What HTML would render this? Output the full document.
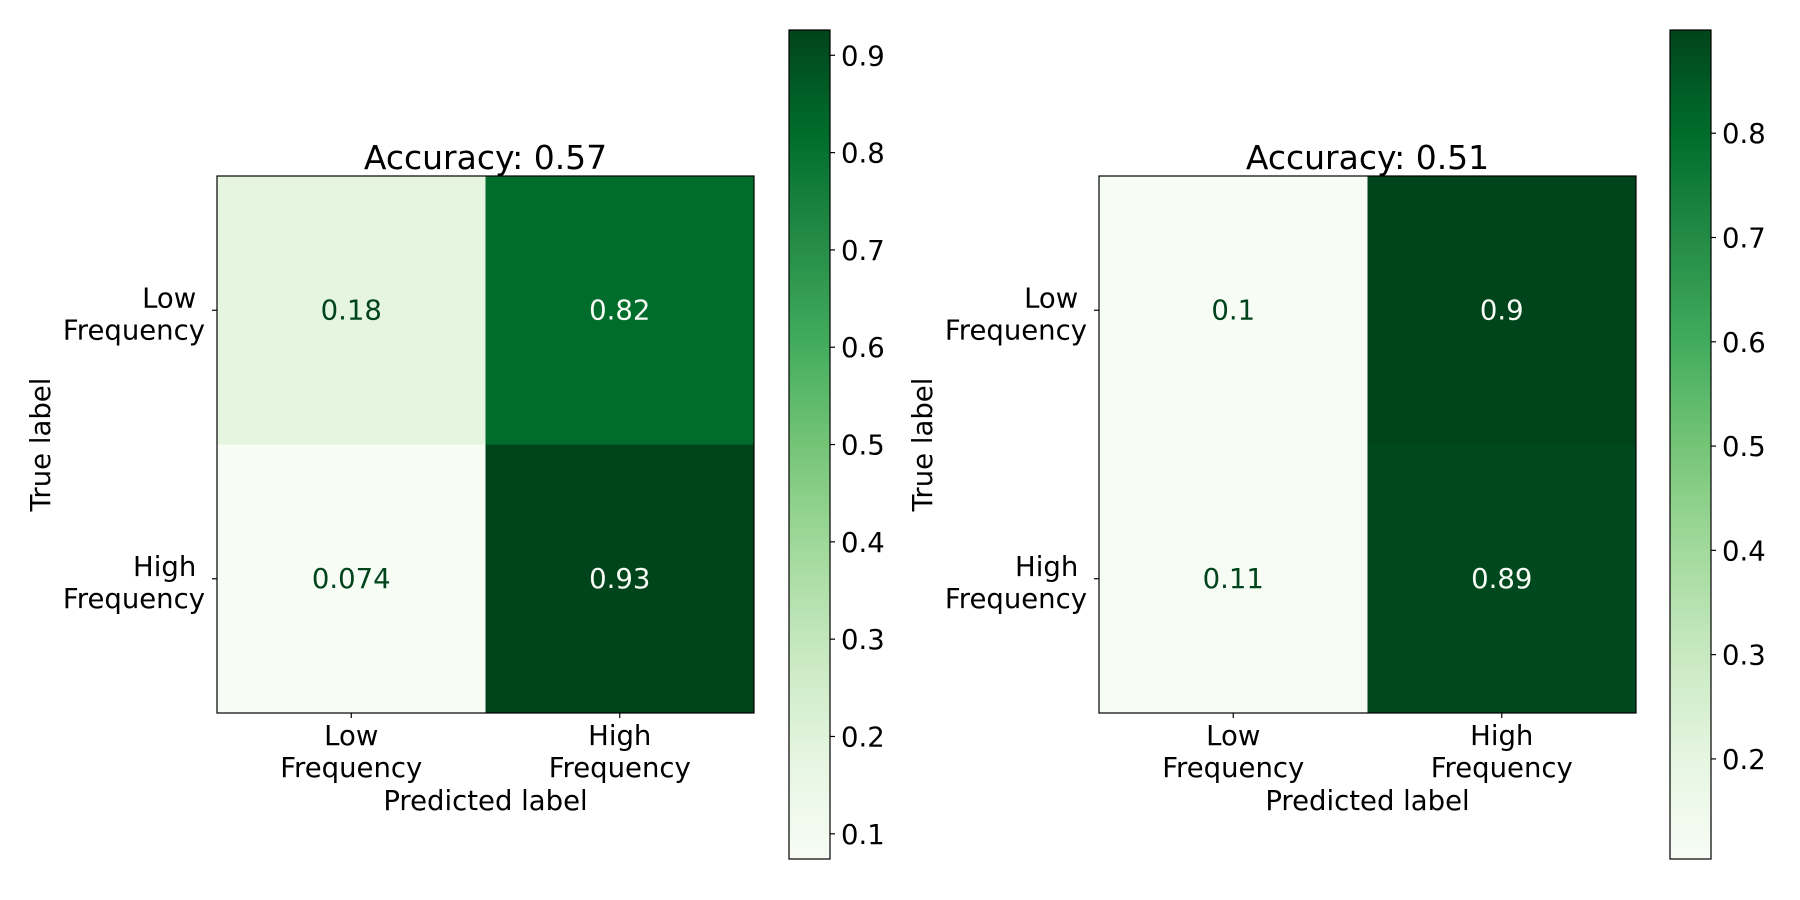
<!DOCTYPE html>
<html><head><meta charset="utf-8"><style>
html,body{margin:0;padding:0;background:#fff;}
svg{display:block;font-family:"DejaVu Sans","Liberation Sans",sans-serif;}
</style></head><body>
<svg id="fig" width="1800" height="900" viewBox="0 0 1800 900" xmlns="http://www.w3.org/2000/svg">
<defs></defs>
</svg>
<script>
const classLabels = [["Low ","Frequency"],["High ","Frequency"]];
const xClassLabels = [["Low","Frequency"],["High","Frequency"]];
const titles = ["Accuracy: 0.57","Accuracy: 0.51"];
const matrixA = [[0.18,0.82],[0.0741,0.926]];
const matrixB = [[0.104,0.899],[0.11,0.89]];
const ticksA = [0.1,0.2,0.3,0.4,0.5,0.6,0.7,0.8,0.9];
const ticksB = [0.2,0.3,0.4,0.5,0.6,0.7,0.8];

const NS="http://www.w3.org/2000/svg";
const svg=document.getElementById('fig');
const FS=27.5;
const stops=[[247,252,245],[229,245,224],[199,233,192],[161,217,155],[116,196,118],[65,171,93],[35,139,69],[0,109,44],[0,68,27]];
function greens(t){t=Math.max(0,Math.min(1,t));const p=t*8,i=Math.min(7,Math.floor(p)),f=p-i;const a=stops[i],b=stops[i+1];return 'rgb('+a.map((v,k)=>Math.round(v+(b[k]-v)*f)).join(',')+')';}
function mk(tag,attrs,parent){const e=document.createElementNS(NS,tag);for(const k in attrs)e.setAttribute(k,attrs[k]);(parent||svg).appendChild(e);return e;}
function fmt(v){return String(parseFloat(v.toPrecision(2)));}

function panel(idx,m,ticks,ox,cbx){
  const top=176,size=537,cell=size/2;
  const flat=m.flat();const vmin=Math.min(...flat),vmax=Math.max(...flat);
  const g=mk('g',{});
  
  
  for(let r=0;r<2;r++)for(let c=0;c<2;c++){
    const v=m[r][c],t=(v-vmin)/(vmax-vmin);
    const rect=mk('rect',{x:ox+c*cell,y:top+r*cell,width:cell+0.5,height:cell+0.5,fill:greens(t)},g);
    
    
    const tx=mk('text',{x:ox+c*cell+cell/2,y:top+r*cell+cell/2+9,'text-anchor':'middle','font-size':FS,fill:t>0.5?'#f7fcf5':'#00441b'},g);
    tx.textContent=fmt(v);
    
    
  }
  const fr=mk('rect',{x:ox,y:top,width:size,height:size,fill:'none',stroke:'#000','stroke-width':1.2},g);
  
  
  const ti=mk('text',{x:ox+size/2,y:169,'text-anchor':'middle','font-size':33,fill:'#000'},g);
  ti.textContent=titles[idx];
  
  
  for(let i=0;i<2;i++){
    const cy=top+i*cell+cell/2;
    mk('line',{x1:ox-5,x2:ox,y1:cy,y2:cy,stroke:'#000','stroke-width':1.2},g);
    const yl=mk('text',{x:ox-12,y:cy-3,'text-anchor':'end','font-size':FS,fill:'#000','xml:space':'preserve'},g);
    
    
    const s1=mk('tspan',{x:ox-12,dy:0},yl);s1.textContent=classLabels[i][0];
    const s2=mk('tspan',{x:ox-12,dy:32},yl);s2.textContent=classLabels[i][1];
    const cx=ox+i*cell+cell/2;
    mk('line',{x1:cx,x2:cx,y1:top+size,y2:top+size+5,stroke:'#000','stroke-width':1.2},g);
    const xl=mk('text',{x:cx,y:745,'text-anchor':'middle','font-size':FS,fill:'#000'},g);
    
    
    const a1=mk('tspan',{x:cx,dy:0},xl);a1.textContent=xClassLabels[i][0];
    const a2=mk('tspan',{x:cx,dy:32},xl);a2.textContent=xClassLabels[i][1];
  }
  const xt=mk('text',{x:ox+size/2,y:810,'text-anchor':'middle','font-size':FS,fill:'#000'},g);
  xt.textContent='Predicted label';
  
  
  const yt=mk('text',{x:0,y:0,'text-anchor':'middle','font-size':FS,fill:'#000',transform:'translate('+(ox-167)+','+(top+size/2)+') rotate(-90)'},g);
  yt.textContent='True label';
  
  
  const cbTop=30,cbBot=859,cbW=41;
  const gid='grad'+idx;
  const lg=mk('linearGradient',{id:gid,x1:0,y1:1,x2:0,y2:0},svg.querySelector('defs'));
  for(let k=0;k<=16;k++)mk('stop',{offset:k/16,'stop-color':greens(k/16)},lg);
  const cb=mk('rect',{x:cbx,y:cbTop,width:cbW,height:cbBot-cbTop,fill:'url(#'+gid+')',stroke:'#000','stroke-width':1.2},g);
  
  
  const cy=v=>cbBot-(v-vmin)/(vmax-vmin)*(cbBot-cbTop);
  ticks.forEach(v=>{
    const y=cy(v);
    mk('line',{x1:cbx+cbW,x2:cbx+cbW+5,y1:y,y2:y,stroke:'#000','stroke-width':1.2},g);
    const tl=mk('text',{x:cbx+cbW+11,y:y+10,'font-size':FS,fill:'#000'},g);
    tl.textContent=v.toFixed(1);
    
    
  });
}
panel(0,matrixA,ticksA,217,789);
panel(1,matrixB,ticksB,1099,1670);
</script>
</body></html>
